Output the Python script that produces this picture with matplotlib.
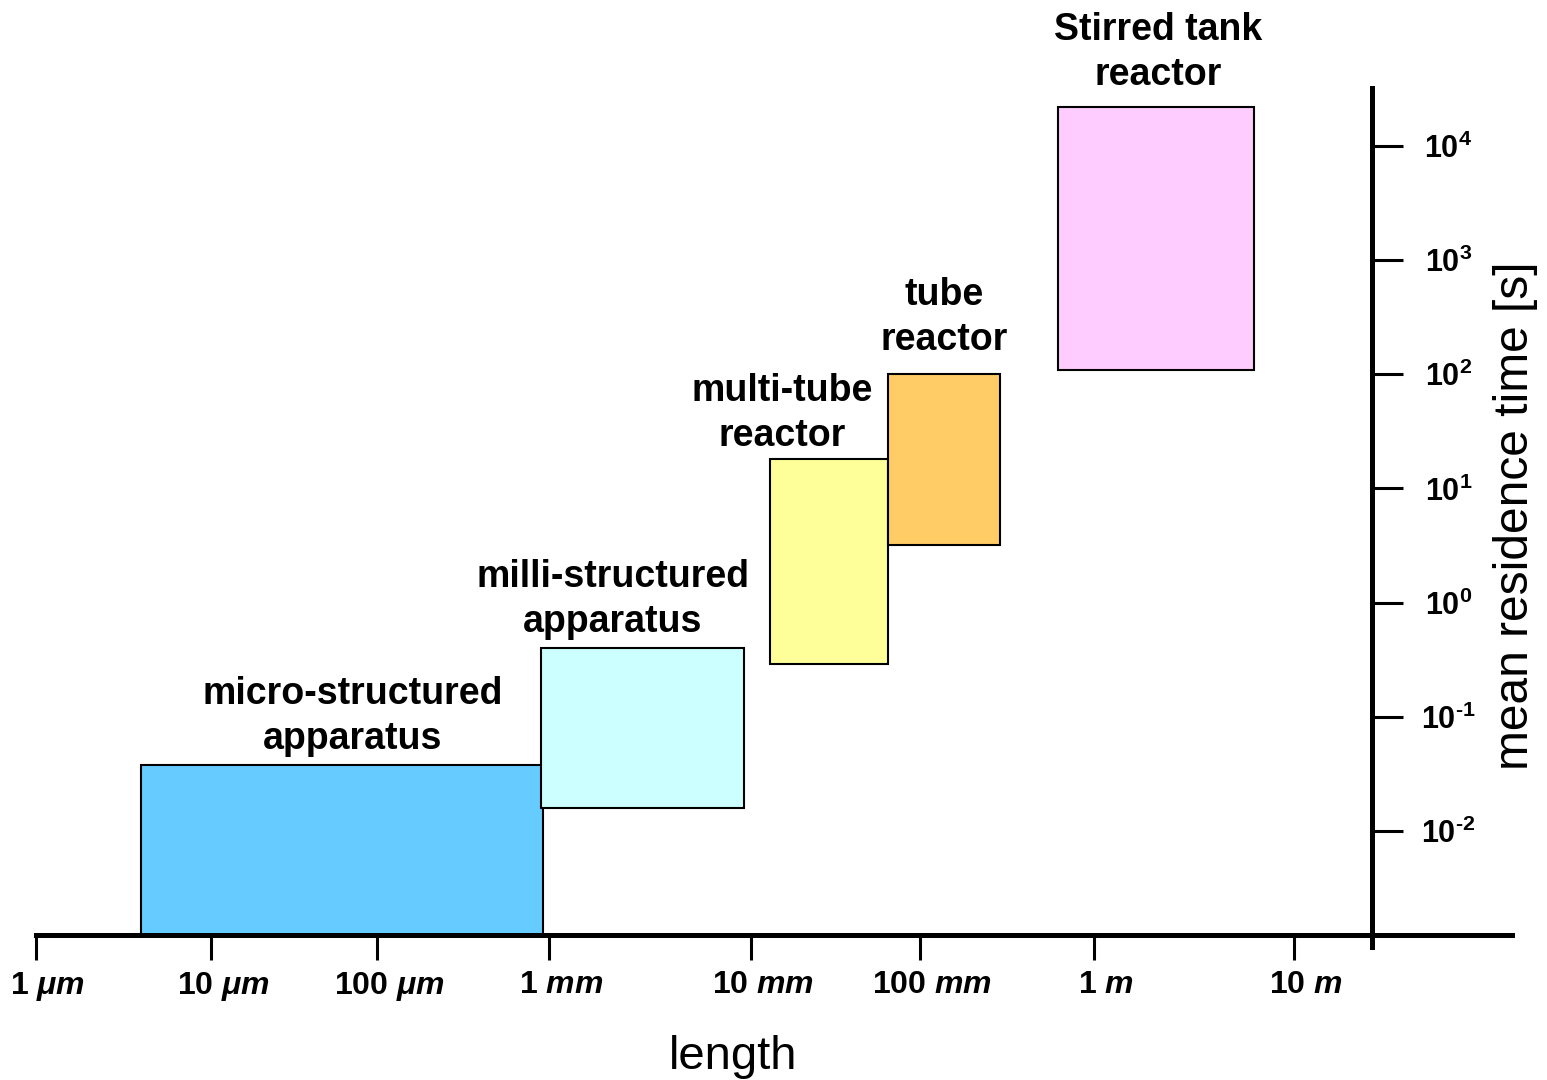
import numpy as np
import matplotlib
matplotlib.use('Agg')
import matplotlib.pyplot as plt
import matplotlib.transforms as mtransforms

plt.rcParams['font.family'] = ['Liberation Sans', 'DejaVu Sans']
plt.rcParams['mathtext.fontset'] = 'custom'
plt.rcParams['mathtext.rm'] = 'Liberation Sans:bold'
plt.rcParams['mathtext.it'] = 'Liberation Sans:italic:bold'
plt.rcParams['mathtext.bf'] = 'Liberation Sans:bold'

# reactor types
names = ['micro-structured\napparatus', 'milli-structured\napparatus',
         'multi-tube\nreactor', 'tube\nreactor', 'Stirred tank\nreactor']
colors = ['#66CCFF', '#CCFFFF', '#FFFF99', '#FFCC66', '#FFCCFF']

# characteristic length range [m]
len_min = [4e-6, 0.9e-3, 13e-3, 65e-3, 0.62]
len_max = [0.92e-3, 9.2e-3, 65e-3, 0.29, 6.3]

# mean residence time range [s]
t_min = [1.23e-3, 0.016, 0.29, 3.2, 110]
t_max = [0.038, 0.40, 18, 100, 2.2e4]

# where the names go
label_len = [7.1e-5, 2.07e-3, 0.0152, 0.137, 2.09]
label_t = [0.100, 1.06, 45, 312, 6.6e4]

x_ticks = [1e-6, 1e-5, 1e-4, 1e-3, 1e-2, 1e-1, 1, 10]
x_ticklabels = ['1 $\\mu m$', '10 $\\mu m$', '100 $\\mu m$', '1 $mm$',
                '10 $mm$', '100 $mm$', '1 $m$', '10 $m$']
y_ticks = [1e-2, 1e-1, 1e0, 1e1, 1e2, 1e3, 1e4]
y_ticklabels = ['10$^{\\text{-}2}$', '10$^{\\text{-}1}$', '10$^{0}$', '10$^{1}$',
                '10$^{2}$', '10$^{3}$', '10$^{4}$']

# the length axis is not evenly spaced in the original, map decades by hand
decades = np.arange(-7, 4)
decade_pos = np.array([-139, 36, 211, 377, 549, 751, 920, 1094, 1294, 1494, 1694])


def fwd(x):
    return np.interp(np.log10(np.maximum(x, 1e-12)), decades, decade_pos)


def inv(p):
    return 10 ** np.interp(p, decade_pos, decades)


fig = plt.figure(figsize=(15.47, 10.8), dpi=100)
ax = fig.add_axes([36 / 1547, 145 / 1080, 1476 / 1547, 847 / 1080])

ax.set_xscale('function', functions=(fwd, inv))
ax.set_yscale('log')
ax.set_xlim(1e-6, 10 ** 2.09)
ax.set_ylim(10 ** -2.911, 10 ** 4.508)

# boxes
for i in range(len(names)):
    ax.fill([len_min[i], len_max[i], len_max[i], len_min[i]],
            [t_min[i], t_min[i], t_max[i], t_max[i]],
            facecolor=colors[i], edgecolor='black', linewidth=1.5)
    ax.text(label_len[i], label_t[i], names[i], ha='center', va='center',
            fontsize=27, fontweight='bold', linespacing=1.32, clip_on=False)

# axes lines
ax.spines['top'].set_visible(False)
ax.spines['left'].set_visible(False)
ax.spines['bottom'].set_linewidth(3.6)
ax.spines['right'].set_linewidth(3.6)
ax.spines['right'].set_position(('data', 10 ** 1.39))
ax.spines['right'].set_bounds(10 ** -3.02, 10 ** 4.508)

ax.set_xticks(x_ticks)
ax.set_xticklabels(x_ticklabels)
ax.set_yticks(y_ticks)
ax.set_yticklabels(y_ticklabels)
ax.yaxis.set_minor_locator(matplotlib.ticker.NullLocator())
ax.xaxis.set_minor_locator(matplotlib.ticker.NullLocator())

ax.tick_params(axis='x', direction='out', length=18, width=2.2,
               labelsize=23, pad=7)
ax.tick_params(axis='y', direction='out', length=22, width=2.2,
               left=False, labelleft=False, right=True, labelright=True,
               labelsize=22, pad=33)

# labels sit a little right of their ticks in the original
shift = mtransforms.ScaledTranslation(12 / 100, 0, fig.dpi_scale_trans)
for lab in ax.get_xticklabels():
    lab.set_fontweight('bold')
    lab.set_transform(lab.get_transform() + shift)
for lab in ax.get_yticklabels():
    lab.set_fontweight('bold')
    lab.set_horizontalalignment('center')

fig.text(733 / 1547, 1 - 1057 / 1080, 'length', ha='center', va='center',
         fontsize=34)
fig.text(1515 / 1547, 1 - 516 / 1080, 'mean residence time [s]', ha='center',
         va='center', rotation=90, fontsize=34.5)

fig.savefig('out.png', dpi=100)
